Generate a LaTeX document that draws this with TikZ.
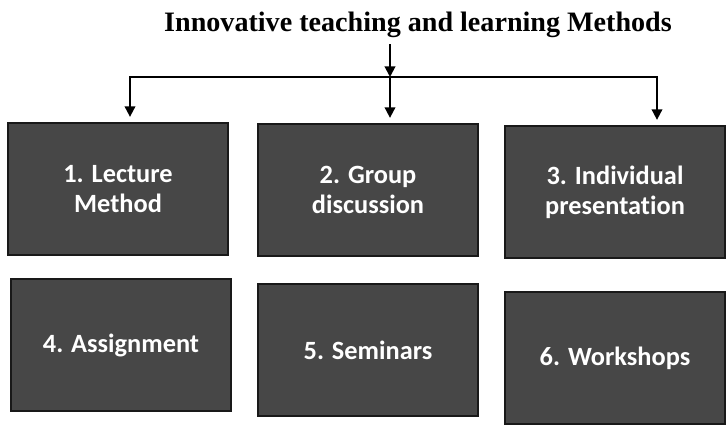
\documentclass[tikz,border=0pt]{standalone}
\usepackage{fontspec}
\setmainfont{Liberation Serif}
\newfontfamily\boxfont[Ligatures=NoCommon]{Carlito}
\usetikzlibrary{arrows.meta}

\begin{document}
\begin{tikzpicture}[x=0.02cm,y=0.02cm,
        methodbox/.style={draw=black!90,line width=1pt,fill=black!72,text=white,
          minimum width=4.4cm,minimum height=2.64cm,align=center,
          font=\boxfont\bfseries\fontsize{15}{17}\selectfont},
        link/.style={line width=1.1pt,-{Triangle[width=6pt,length=6pt]},shorten >=3pt}]
        \useasboundingbox (0,0) rectangle (727,425);
        \node[anchor=base,font=\bfseries\fontsize{16}{19}\selectfont] (title) at (418,393) {Innovative teaching and learning Methods};
        \node[methodbox] (lecture) at (118,236) {1. Lecture\\Method};
        \node[methodbox] (discussion) at (368,235) {2. Group\\discussion};
        \node[methodbox] (presentation) at (615,233) {3. Individual\\presentation};
        \node[methodbox] (assignment) at (121,80) {4. Assignment};
        \node[methodbox] (seminars) at (368,75) {5. Seminars};
        \node[methodbox] (workshops) at (615,67) {6. Workshops};
        \coordinate (split) at (390,348);
        \coordinate (barL) at (130,348);
        \coordinate (barR) at (657,348);
        \draw[link,shorten >=0pt] (title.south -| split) -- (split);
        \draw[link] (split) -- (split |- discussion.north);
        \draw[link] (split) -| (barL |- lecture.north);
        \draw[link] (split) -| (barR |- presentation.north);
\end{tikzpicture}
\end{document}
